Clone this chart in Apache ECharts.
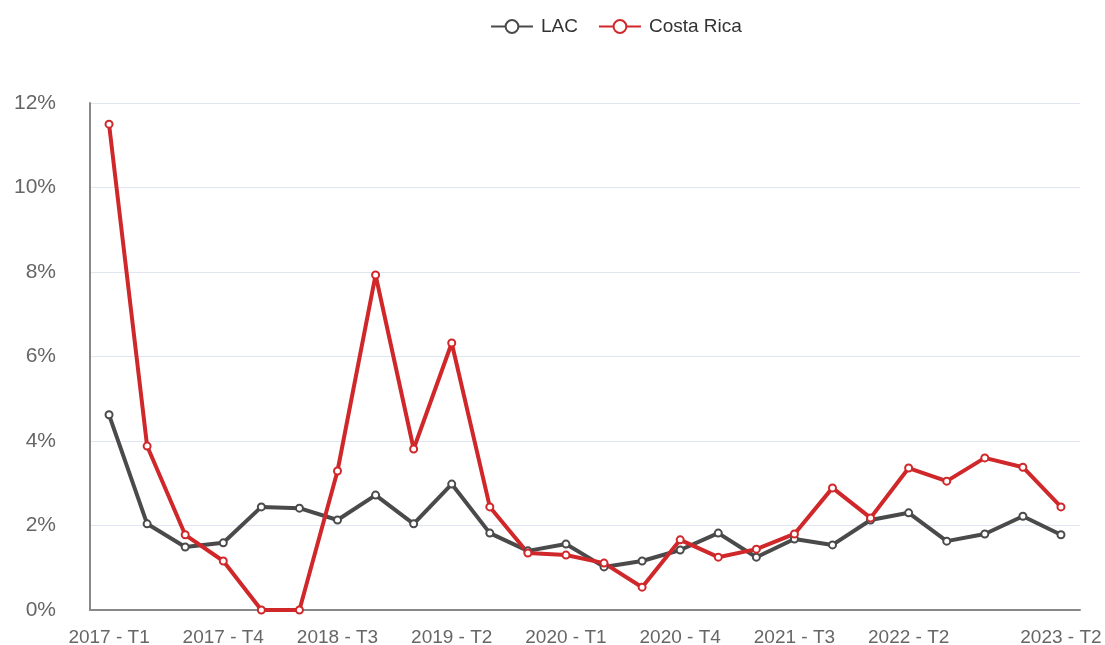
<!DOCTYPE html>
<html>
<head>
    <meta charset="UTF-8">
    <title>LAC vs Costa Rica</title>
    <script src="https://cdn.jsdelivr.net/npm/echarts@6.0.0/dist/echarts.min.js"></script>
    <style>
        html, body { margin: 0; padding: 0; background: #fff; }
        #chart { width: 1105px; height: 645px; }
    </style>
</head>
<body>
    <div id="chart"></div>
    <script>
        // trimestres 2017 T1 .. 2023 T2
        const quarters = [];
        for (let y = 2017; y <= 2023; y++) {
            for (let q = 1; q <= 4; q++) {
                if (y === 2023 && q > 2) break;
                quarters.push(y + ' - T' + q);
            }
        }

        const lac = [4.62, 2.04, 1.49, 1.59, 2.44, 2.41, 2.13, 2.72, 2.04, 2.98, 1.82, 1.40, 1.56,
            1.02, 1.16, 1.42, 1.82, 1.25, 1.68, 1.54, 2.13, 2.30, 1.63, 1.80, 2.22, 1.78];
        const costaRica = [11.5, 3.88, 1.78, 1.16, 0, 0, 3.29, 7.93, 3.81, 6.32, 2.44, 1.35, 1.30,
            1.11, 0.54, 1.66, 1.25, 1.44, 1.80, 2.89, 2.18, 3.36, 3.05, 3.60, 3.38, 2.44];

        const yTicks = [0, 2, 4, 6, 8, 10, 12];

        const chart = echarts.init(document.getElementById('chart'));
        const font = 'Liberation Sans, Arial, sans-serif';

        chart.setOption({
            textStyle: { fontFamily: font },
            legend: {
                top: 12,
                left: 485,
                itemWidth: 42,
                itemHeight: 16,
                itemGap: 20,
                textStyle: { fontSize: 19, color: '#333', fontFamily: font, padding: [0, 0, 0, 3] },
                data: ['LAC', 'Costa Rica']
            },
            grid: { left: 90, right: 25, top: 103, bottom: 35, outerBoundsMode: 'none' },
            xAxis: {
                type: 'category',
                data: quarters,
                axisLine: { lineStyle: { color: '#888', width: 2 } },
                axisTick: { show: false },
                axisLabel: {
                    color: '#666',
                    fontSize: 19,
                    margin: 18,
                    interval: (i) => (i % 3 === 0 && i !== 24) || i === quarters.length - 1
                }
            },
            yAxis: {
                type: 'value',
                min: yTicks[0],
                max: yTicks[yTicks.length - 1],
                interval: 2,
                axisLine: { show: true, lineStyle: { color: '#888', width: 2 } },
                axisLabel: { color: '#666', fontSize: 21, margin: 34, formatter: '{value}%' },
                splitLine: { lineStyle: { color: '#e0e6f1' } }
            },
            series: [
                {
                    name: 'LAC',
                    type: 'line',
                    data: lac,
                    symbol: 'emptyCircle',
                    symbolSize: 7,
                    itemStyle: { color: '#4a4a4a', borderWidth: 2 },
                    lineStyle: { color: '#4a4a4a', width: 4 }
                },
                {
                    name: 'Costa Rica',
                    type: 'line',
                    data: costaRica,
                    symbol: 'emptyCircle',
                    symbolSize: 7,
                    itemStyle: { color: '#d0282a', borderWidth: 2 },
                    lineStyle: { color: '#d0282a', width: 4 }
                }
            ]
        });
    </script>
</body>
</html>
